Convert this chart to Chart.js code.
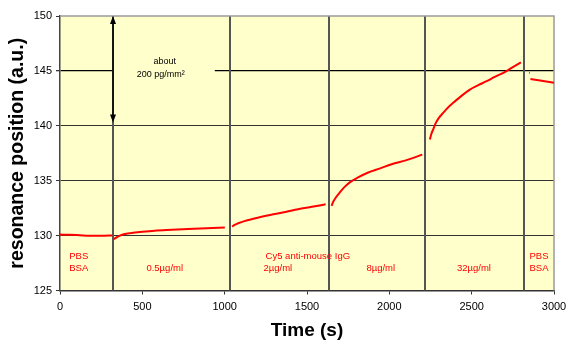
<!DOCTYPE html>
<html>
<head>
<meta charset="utf-8">
<script src="https://cdn.jsdelivr.net/npm/chart.js@4/dist/chart.umd.min.js"></script>
<style>
  html, body { margin: 0; padding: 0; background: #ffffff; }
  #c { display: block; }
</style>
</head>
<body>
<canvas id="c" width="567" height="343"></canvas>
<script>
// ---- data ----
// null values mark the breaks between measurement phases
const times = [
  0, 60, 120, 180, 240, 300, 318, 320,
  324, 345, 373, 434, 500, 575, 680, 778, 890, 1001, 1020,
  1045, 1060, 1082, 1120, 1163, 1230, 1305, 1375, 1446, 1530, 1613, 1630,
  1649, 1660, 1679, 1700, 1730, 1766, 1810, 1872, 1940, 2014, 2100, 2200, 2225,
  2246, 2255, 2267, 2280, 2300, 2327, 2355, 2388, 2440, 2489, 2540, 2591, 2640, 2692, 2745, 2799, 2820,
  2849, 2853, 2855,
  2857, 2915, 3000
];
const resonance = [
  130.09, 130.07, 130.03, 129.99, 129.98, 130.0, 130.0, null,
  129.67, 129.85, 130.06, 130.24, 130.35, 130.45, 130.53, 130.6, 130.67, 130.73, null,
  130.82, 130.98, 131.12, 131.32, 131.49, 131.74, 131.97, 132.18, 132.40, 132.62, 132.85, null,
  132.70, 133.1, 133.55, 133.95, 134.46, 134.92, 135.3, 135.75, 136.1, 136.5, 136.85, 137.37, null,
  138.75, 139.25, 139.7, 140.2, 140.7, 141.18, 141.65, 142.09, 142.75, 143.3, 143.7, 144.06, 144.45, 144.82, 145.3, 145.78, null,
  144.83, 144.81, null,
  144.27, 144.12, 143.91
];
// phase boundaries (s)
const phaseTimes = [320, 1030, 1633, 2218, 2816];
// phase labels
const phaseLabelsTop = ["PBS", "", "Cy5 anti-mouse IgG", "", "", "PBS"];
const phaseLabelsBottom = ["BSA", "0.5\u00B5g/ml", "2\u00B5g/ml", "8\u00B5g/ml", "32\u00B5g/ml", "BSA"];
// annotation
const annotationLines = ["about", "200 pg/mm\u00B2"];
const arrowRange = [150, 140.3];
const xTicks = [0, 500, 1000, 1500, 2000, 2500, 3000];
const yTicks = [125, 130, 135, 140, 145, 150];

const FONT = "'Liberation Sans', Arial, Helvetica, sans-serif";

const points = times.map((t, i) => ({ x: t, y: resonance[i] }));

const decor = {
  id: 'decor',
  beforeDraw(chart) {
    const { ctx, chartArea: a } = chart;
    ctx.save();
    ctx.fillStyle = '#FFFFCC';
    ctx.fillRect(a.left, a.top, a.right - a.left, a.bottom - a.top);
    ctx.restore();
  },
  beforeDatasetsDraw(chart) {
    const { ctx, chartArea: a, scales: { x, y } } = chart;
    ctx.save();
    // box behind the annotation text (hides the gridline there)
    ctx.fillStyle = '#FFFFCC';
    const bx0 = x.getPixelForValue(phaseTimes[0]);
    const bx1 = x.getPixelForValue(940);
    ctx.fillRect(bx0, y.getPixelForValue(147), bx1 - bx0, y.getPixelForValue(143.5) - y.getPixelForValue(147));
    // phase boundary lines
    ctx.strokeStyle = '#555555';
    ctx.lineWidth = 2;
    phaseTimes.forEach(t => {
      const px = Math.round(x.getPixelForValue(t));
      ctx.beginPath();
      ctx.moveTo(px, a.top);
      ctx.lineTo(px, a.bottom);
      ctx.stroke();
    });
    // top and right frame
    ctx.strokeStyle = '#9a9a9a';
    ctx.lineWidth = 1.5;
    ctx.beginPath();
    ctx.moveTo(a.left, a.top);
    ctx.lineTo(a.right, a.top);
    ctx.lineTo(a.right, a.bottom);
    ctx.stroke();
    ctx.restore();
  },
  afterDatasetsDraw(chart) {
    const { ctx, scales: { x, y } } = chart;
    ctx.save();
    // double arrow
    const ax = Math.round(x.getPixelForValue(phaseTimes[0]));
    const ay0 = y.getPixelForValue(arrowRange[0]);
    const ay1 = y.getPixelForValue(arrowRange[1]);
    ctx.strokeStyle = '#000';
    ctx.fillStyle = '#000';
    ctx.lineWidth = 1.5;
    ctx.beginPath();
    ctx.moveTo(ax, ay0 + 4);
    ctx.lineTo(ax, ay1 - 4);
    ctx.stroke();
    ctx.beginPath();
    ctx.moveTo(ax, ay0);
    ctx.lineTo(ax - 3, ay0 + 8);
    ctx.lineTo(ax + 3, ay0 + 8);
    ctx.closePath();
    ctx.fill();
    ctx.beginPath();
    ctx.moveTo(ax, ay1);
    ctx.lineTo(ax - 3, ay1 - 8);
    ctx.lineTo(ax + 3, ay1 - 8);
    ctx.closePath();
    ctx.fill();
    // annotation text
    ctx.font = '9px ' + FONT;
    ctx.textAlign = 'center';
    ctx.textBaseline = 'middle';
    ctx.fillText(annotationLines[0], x.getPixelForValue(636), y.getPixelForValue(145.84));
    ctx.fillText(annotationLines[1], x.getPixelForValue(612), y.getPixelForValue(144.69));
    // phase labels
    ctx.fillStyle = '#FF0000';
    ctx.font = '9.5px ' + FONT;
    const topPos = [114, 0, 1505, 0, 0, 2909];
    const botPos = [114, 636, 1323, 1948, 2514, 2909];
    phaseLabelsTop.forEach((s, i) => {
      if (s) ctx.fillText(s, x.getPixelForValue(topPos[i]), y.getPixelForValue(128.1));
    });
    phaseLabelsBottom.forEach((s, i) => {
      if (s) ctx.fillText(s, x.getPixelForValue(botPos[i]), y.getPixelForValue(127.05));
    });
    ctx.restore();
  }
};

new Chart(document.getElementById('c'), {
  type: 'line',
  data: {
    datasets: [{
      data: points,
      borderColor: '#FF0000',
      borderWidth: 2,
      pointRadius: 0,
      spanGaps: false,
      cubicInterpolationMode: 'monotone',
      fill: false
    }]
  },
  options: {
    responsive: false,
    animation: false,
    devicePixelRatio: 1,
    layout: { padding: { top: 16, right: 13, left: 0, bottom: 0 } },
    plugins: { legend: { display: false }, tooltip: { enabled: false } },
    scales: {
      x: {
        type: 'linear',
        min: 0, max: 3000,
        afterBuildTicks(scale) { scale.ticks = xTicks.map(v => ({ value: v })); },
        afterFit(scale) { scale.height = 52.5; scale.paddingRight = 0; scale.paddingLeft = 0; },
        ticks: { color: '#000', font: { family: FONT, size: 11 }, padding: 6, maxRotation: 0, callback: v => String(v) },
        grid: { drawOnChartArea: false, drawTicks: true, tickLength: 4, tickColor: '#333', color: '#333' },
        border: { display: true, color: '#333', width: 1.5 },
        title: { display: true, text: 'Time (s)', color: '#000', font: { family: FONT, size: 19, weight: 'bold' }, padding: { top: 0, bottom: 1 } }
      },
      y: {
        min: 125, max: 150,
        afterBuildTicks(scale) { scale.ticks = yTicks.map(v => ({ value: v })); },
        afterFit(scale) { scale.width = 60; scale.paddingTop = 0; scale.paddingBottom = 0; },
        ticks: { color: '#000', font: { family: FONT, size: 11 }, padding: 4 },
        grid: {
          drawOnChartArea: true, tickLength: 4, tickColor: '#333',
          color: ctx => {
            const v = ctx.tick && ctx.tick.value;
            if (v === 150 || v === 125) return 'rgba(0,0,0,0)';
            if (v === 145) return '#000';
            return '#333';
          },
          lineWidth: ctx => (ctx.tick && ctx.tick.value === 145) ? 1.3 : 1
        },
        border: { display: true, color: '#444', width: 1.5 },
        title: { display: true, text: 'resonance position (a.u.)', color: '#000', font: { family: FONT, size: 19.5, weight: 'bold' }, padding: { top: 6, bottom: 0 } }
      }
    }
  },
  plugins: [decor]
});
</script>
</body>
</html>
